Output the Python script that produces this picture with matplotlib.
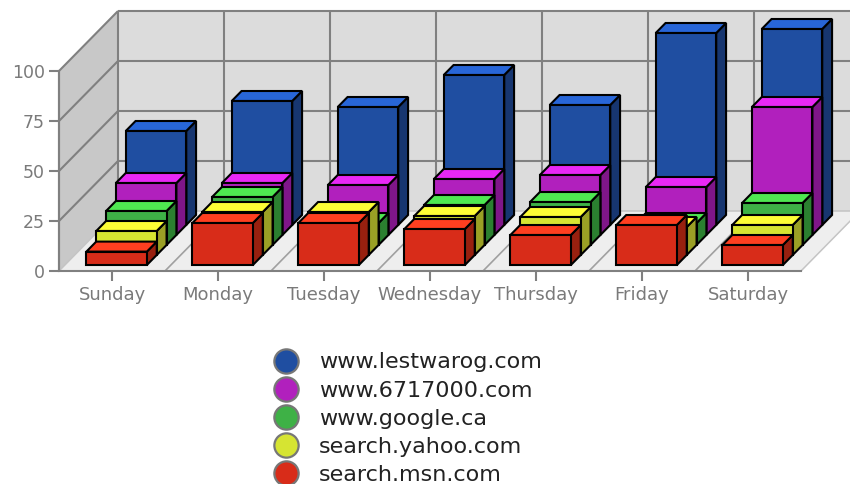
import matplotlib
matplotlib.use("Agg")
import matplotlib.pyplot as plt
from matplotlib.patches import Polygon
from matplotlib.lines import Line2D

days = ["Sunday", "Monday", "Tuesday", "Wednesday", "Thursday", "Friday", "Saturday"]
# series listed front-to-back
msn = [6.7, 21, 21, 18, 15, 20, 10]
yahoo = [12, 21.5, 21.5, 19.5, 19, 14, 15]
google = [17, 24, 11, 20, 21.5, 11, 21]
site6717 = [26, 26, 25, 28, 30, 24, 64]
lestwarog = [47, 62, 59, 75, 60, 96, 98]
front_to_back = [msn, yahoo, google, site6717, lestwarog]
legend_labels = ["www.lestwarog.com", "www.6717000.com", "www.google.ca", "search.yahoo.com", "search.msn.com"]
y_ticks = [0, 25, 50, 75, 100]

# (front, top, side) colours, front-to-back
palette = [
    ("#d82c19", "#ff3f20", "#98200f"),
    ("#d6e432", "#fdfd36", "#9aa025"),
    ("#3eb146", "#4fe851", "#2b8030"),
    ("#b120bd", "#e828f5", "#7f1689"),
    ("#1f4ea1", "#2866d8", "#173670"),
]

W, H = 850, 484
LEFT, RIGHT, BASE, TOP100 = 59, 801, 271, 71
CAT_PX = (RIGHT - LEFT) / len(days)
VAL_PX = (BASE - TOP100) / 100
WALL = 60
SLOPE = 59 / 60
BAR_W = 60.5 / CAT_PX
BAR_D = 10
LAT = 21.5 / CAT_PX
GRID = "#808080"
SOFT = "#c4c4c4"

fig = plt.figure(figsize=(W / 100, H / 100), dpi=100, facecolor="white")
ax = fig.add_axes([LEFT / W, (H - BASE) / H, (RIGHT - LEFT) / W, (BASE - TOP100) / H])
ax.set_xlim(0, len(days))
ax.set_ylim(0, 100)
ax.patch.set_visible(False)


def P(x, depth, v):
    """Project category x, depth in px and value v onto the axes' data plane."""
    return (x + depth * SLOPE / CAT_PX, v + depth / VAL_PX)


def poly(pts, fc, ec="none", lw=0, z=1):
    ax.add_patch(Polygon(pts, closed=True, fc=fc, ec=ec, lw=lw, zorder=z,
                         clip_on=False, joinstyle="miter"))


def line(a, b, z=1.5, c=GRID, lw=1.5):
    ax.add_line(Line2D([a[0], b[0]], [a[1], b[1]], color=c, lw=lw, zorder=z,
                       clip_on=False, solid_capstyle="butt"))


n = len(days)
vmax = y_ticks[-1]
# walls and floor
poly([P(0, WALL, 0), P(n + 1, WALL, 0), P(n + 1, WALL, vmax), P(0, WALL, vmax)], "#dcdcdc")
poly([P(0, 0, 0), P(0, WALL, 0), P(0, WALL, vmax), P(0, 0, vmax)], "#c8c8c8")
poly([P(0, 0, 0), P(n, 0, 0), P(n, WALL, 0), P(0, WALL, 0)], "#eeeeee")

for v in y_ticks[1:]:
    line(P(0, 0, v), P(0, WALL, v))
    line(P(0, WALL, v), P(n + 1, WALL, v))
line(P(0, 0, 0), P(0, WALL, 0), c=SOFT, lw=1.1)
line(P(0, WALL, 0), P(n + 1, WALL, 0), c=SOFT, lw=1.1)
line(P(0, 0, 0), P(0, 0, vmax))
for k in range(n + 1):
    line(P(k, WALL, 0), P(k, WALL, vmax))
    if 0 < k < n:
        line(P(k, 0, 0), P(k, WALL, 0), c="#a0a0a0", lw=1.2)
line(P(n, 0, 0), P(n, WALL, 0), c=SOFT, lw=1.1)

# bars
z = 3
for k in range(n):
    for s in range(len(front_to_back) - 1, -1, -1):
        v = front_to_back[s][k]
        d0 = 6 + 10 * s
        d1 = d0 + BAR_D
        x0 = k + LAT
        x1 = x0 + BAR_W
        fc, tc, sc = palette[s]
        kw = dict(ec="black", lw=1.5, z=z)
        poly([P(x1, d0, 0), P(x1, d1, 0), P(x1, d1, v), P(x1, d0, v)], sc, **kw)
        poly([P(x0, d0, v), P(x1, d0, v), P(x1, d1, v), P(x0, d1, v)], tc, **kw)
        poly([P(x0, d0, 0), P(x1, d0, 0), P(x1, d0, v), P(x0, d0, v)], fc, **kw)
        z += 1

# axes
for name in ("top", "right"):
    ax.spines[name].set_visible(False)
for name in ("left", "bottom"):
    ax.spines[name].set_color(GRID)
    ax.spines[name].set_linewidth(1.5)
ax.set_yticks(y_ticks)
ax.set_xticks([i + 0.5 for i in range(n)])
ax.set_xticklabels(days)
ax.tick_params(axis="both", colors=GRID, length=7, width=1.5, labelcolor="#7a7a7a")
ax.tick_params(axis="x", pad=4, labelsize=13)
ax.tick_params(axis="y", pad=3, labelsize=12.5)

# legend (top to bottom = back to front)
handles = [Line2D([], [], ls="none", marker="o", ms=17.5, mfc=palette[s][0], mec="#777777", mew=1.6)
           for s in range(len(front_to_back) - 1, -1, -1)]
fig.legend(handles, legend_labels, loc="upper left", bbox_to_anchor=(268 / W, (H - 352.5) / H),
           frameon=False, fontsize=16, labelcolor="#222222", labelspacing=0.365,
           handletextpad=0.7, handlelength=1.6, borderpad=0, borderaxespad=0)

fig.savefig("out.png", dpi=100, facecolor="white")
